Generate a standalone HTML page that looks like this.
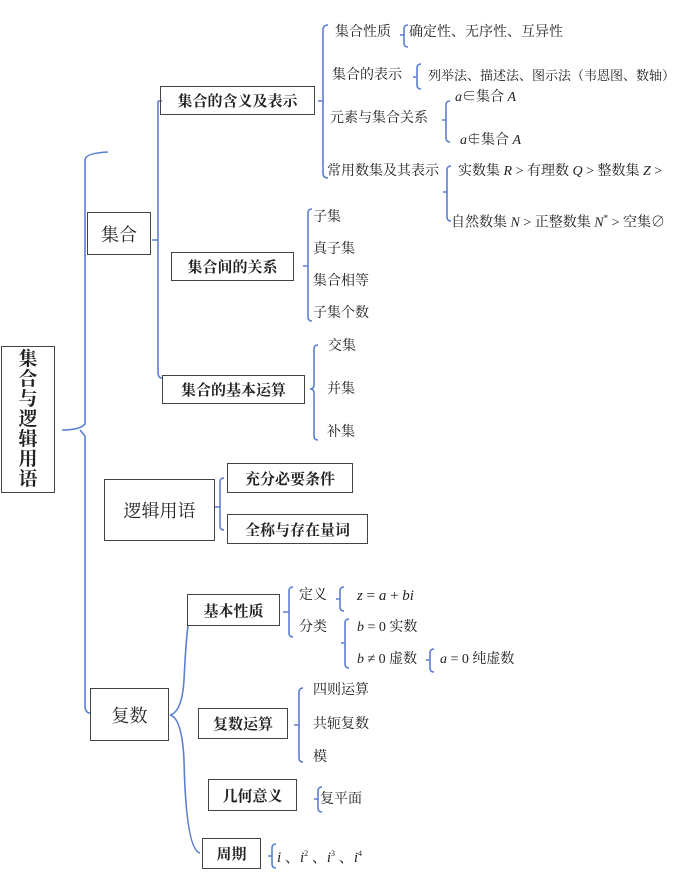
<!DOCTYPE html>
<html><head><meta charset="utf-8"><style>
body{margin:0;width:686px;height:876px;background:#fff;position:relative;overflow:hidden;font-family:"Liberation Serif","Noto Serif CJK SC","Noto Sans CJK SC",serif;color:#222}
.t{position:absolute;white-space:nowrap;font-size:14px;line-height:14px}
.b{position:absolute;border:1.3px solid #444;box-sizing:border-box;display:flex;align-items:center;justify-content:center;font-weight:bold;font-size:15px;white-space:nowrap}
i{font-family:"Liberation Serif",serif}
svg{position:absolute;left:0;top:0}
</style></head><body>
<svg width="686" height="876" fill="none" stroke="#5b7fd1" stroke-width="1.6">
<path d="M62,430 Q80,430 85,424 L85,160 Q85,153 108,152 M85,436 Q80,430 80,430 M85,436 L85,705 Q85,713 90,713"/>
<path d="M152,240 L158,240 M158,101 L158,372 Q158,378 162,378 M158,101 L162,101"/>
<path d="M318,101 L323,101 M328,25 Q323,25 323,30 L323,173 Q323,178 328,178"/>
<path d="M408,25 Q404,25 404,29 L404,43 Q404,47 408,47 M400,35 L404,35"/>
<path d="M421,64 Q417,64 417,68 L417,85 Q417,89 421,89 M413,77 L417,77"/>
<path d="M450,101 Q446,101 446,105 L446,138 Q446,142 450,142 M442,120 L446,120"/>
<path d="M451,166 Q447,166 447,170 L447,217 Q447,221 451,221 M443,192 L447,192"/>
<path d="M303,266 L308,266 M312,209 Q308,209 308,213 L308,317 Q308,321 312,321"/>
<path d="M318,345 Q314,345 314,349 L314,385 Q314,389 310,389 Q314,389 314,393 L314,436 Q314,440 318,440"/>
<path d="M215,507 L220,507 M224,478 Q220,478 220,482 L220,526 Q220,530 224,530"/>
<path d="M170,715 Q182,712 184,680 Q186,640 188,626 M170,715 Q182,718 184,760 Q186,850 200,853"/>
<path d="M283,612 L289,612 M293,587 Q289,587 289,591 L289,633 Q289,637 293,637"/>
<path d="M344,587 Q340,587 340,591 L340,607 Q340,611 344,611 M336,599 L340,599"/>
<path d="M349,619 Q345,619 345,623 L345,664 Q345,668 349,668 M341,643 L345,643"/>
<path d="M434,649 Q430,649 430,653 L430,668 Q430,672 434,672 M426,660 L430,660"/>
<path d="M303,688 Q299,688 299,692 L299,758 Q299,762 303,762 M294,725 L299,725"/>
<path d="M322,787 Q318,787 318,791 L318,808 Q318,812 322,812 M314,799 L318,799"/>
<path d="M276,844 Q272,844 272,848 L272,864 Q272,868 276,868 M268,856 L272,856"/>
</svg>

<div class="b" style="left:1px;top:346px;width:54px;height:147px;font-size:19px;line-height:20px;text-align:center;white-space:normal">集<br>合<br>与<br>逻<br>辑<br>用<br>语</div>
<div class="b" style="left:87px;top:212px;width:64px;height:43px;font-weight:normal;font-size:18px">集合</div>
<div class="b" style="left:160px;top:86px;width:155px;height:29px">集合的含义及表示</div>
<div class="b" style="left:171px;top:252px;width:123px;height:29px">集合间的关系</div>
<div class="b" style="left:162px;top:375px;width:143px;height:29px">集合的基本运算</div>
<div class="b" style="left:104px;top:479px;width:111px;height:62px;font-weight:normal;font-size:18px">逻辑用语</div>
<div class="b" style="left:227px;top:463px;width:126px;height:30px">充分必要条件</div>
<div class="b" style="left:227px;top:514px;width:141px;height:30px">全称与存在量词</div>
<div class="b" style="left:90px;top:688px;width:79px;height:53px;font-weight:normal;font-size:18px">复数</div>
<div class="b" style="left:187px;top:594px;width:93px;height:32px">基本性质</div>
<div class="b" style="left:198px;top:708px;width:90px;height:31px">复数运算</div>
<div class="b" style="left:208px;top:779px;width:89px;height:32px">几何意义</div>
<div class="b" style="left:202px;top:838px;width:59px;height:31px">周期</div>

<div class="t" style="left:335px;top:26px">集合性质</div>
<div class="t" style="left:409px;top:26px">确定性、无序性、互异性</div>
<div class="t" style="left:332px;top:69px">集合的表示</div>
<div class="t" style="left:428px;top:69px;font-size:13px">列举法、描述法、图示法（韦恩图、数轴）</div>
<div class="t" style="left:330px;top:112px">元素与集合关系</div>
<div class="t" style="left:455px;top:91px"><i>a</i>∈集合 <i>A</i></div>
<div class="t" style="left:460px;top:134px"><i>a</i>∉集合 <i>A</i></div>
<div class="t" style="left:327px;top:165px">常用数集及其表示</div>
<div class="t" style="left:458px;top:165px">实数集 <i>R</i> &gt; 有理数 <i>Q</i> &gt; 整数集 <i>Z</i> &gt;</div>
<div class="t" style="left:451px;top:211px">自然数集 <i>N</i> &gt; 正整数集 <i>N</i><sup style="font-size:9px">*</sup> &gt; 空集∅</div>
<div class="t" style="left:313px;top:211px">子集</div>
<div class="t" style="left:313px;top:243px">真子集</div>
<div class="t" style="left:313px;top:275px">集合相等</div>
<div class="t" style="left:313px;top:307px">子集个数</div>
<div class="t" style="left:328px;top:340px">交集</div>
<div class="t" style="left:327px;top:383px">并集</div>
<div class="t" style="left:327px;top:426px">补集</div>
<div class="t" style="left:299px;top:589px">定义</div>
<div class="t" style="left:357px;top:589px;font-size:15px"><i>z</i> = <i>a</i> + <i>bi</i></div>
<div class="t" style="left:299px;top:621px">分类</div>
<div class="t" style="left:357px;top:621px"><i>b</i> = 0 实数</div>
<div class="t" style="left:357px;top:653px"><i>b</i> ≠ 0 虚数</div>
<div class="t" style="left:440px;top:653px"><i>a</i> = 0 纯虚数</div>
<div class="t" style="left:313px;top:684px">四则运算</div>
<div class="t" style="left:313px;top:718px">共轭复数</div>
<div class="t" style="left:313px;top:751px">模</div>
<div class="t" style="left:320px;top:793px">复平面</div>
<div class="t" style="left:277px;top:847px;font-size:15px"><i>i</i> 、<i>i</i><sup style="font-size:8px">2</sup> 、<i>i</i><sup style="font-size:8px">3</sup> 、<i>i</i><sup style="font-size:8px">4</sup></div>
</body></html>
